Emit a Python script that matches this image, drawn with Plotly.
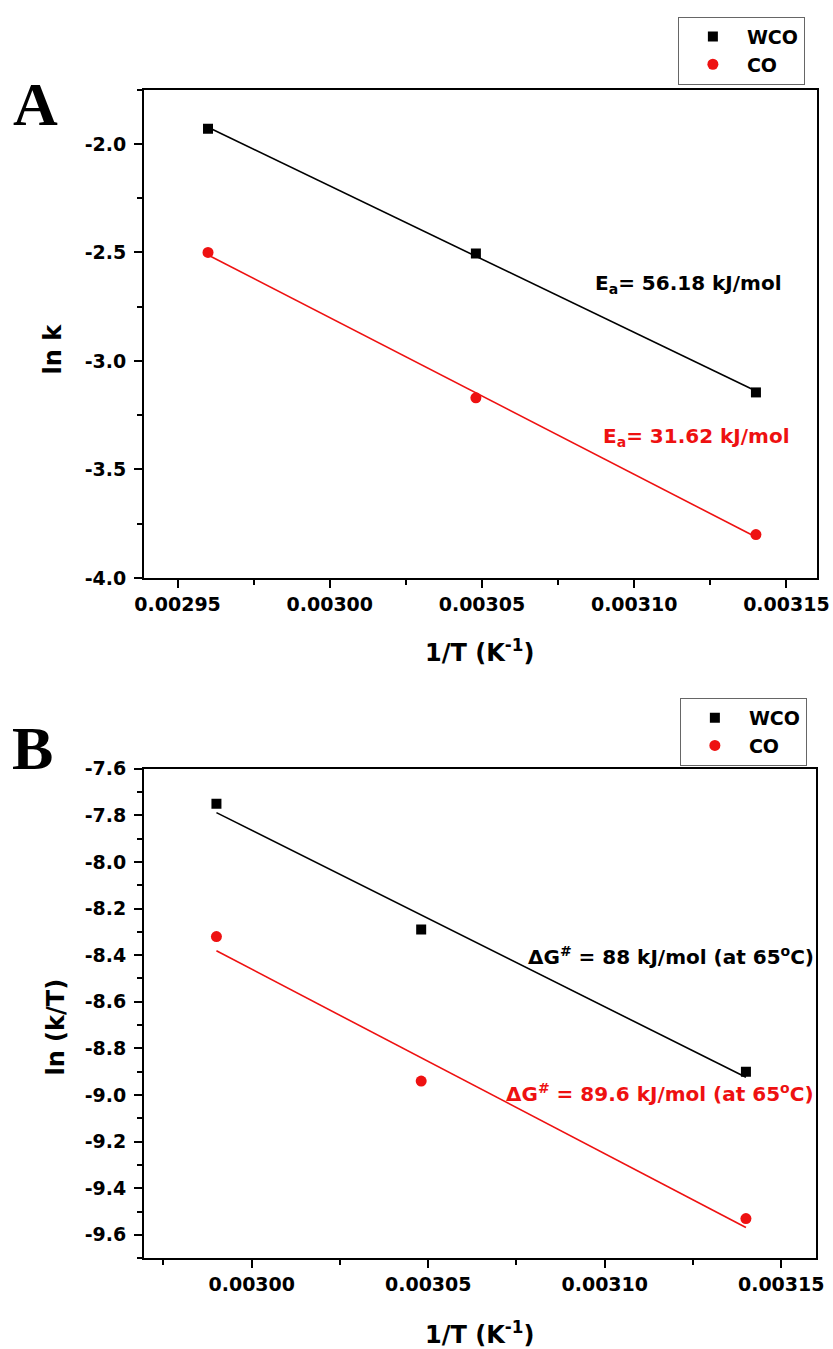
import numpy as np
import plotly.graph_objects as go

# ---- Panel A: Arrhenius plot (ln k vs 1/T) ----
inv_T_A = [0.00296, 0.003048, 0.00314]
lnk_wco = [-1.93, -2.505, -3.145]
lnk_co = [-2.50, -3.17, -3.80]

# ---- Panel B: Eyring plot (ln(k/T) vs 1/T) ----
inv_T_B = [0.00299, 0.003048, 0.00314]
lnkT_wco = [-7.75, -8.29, -8.90]
lnkT_co = [-8.32, -8.94, -9.53]

# axis ticks
x_ticks_A = [0.00295, 0.00300, 0.00305, 0.00310, 0.00315]
x_ticks_B = [0.00300, 0.00305, 0.00310, 0.00315]
y_ticks_A = [-4.0, -3.5, -3.0, -2.5, -2.0]
y_ticks_B = [-9.6, -9.4, -9.2, -9.0, -8.8, -8.6, -8.4, -8.2, -8.0, -7.8, -7.6]

ea_labels = ["E<sub>a</sub>= 56.18 kJ/mol", "E<sub>a</sub>= 31.62 kJ/mol"]
dg_labels = ["\u0394G<sup>#</sup> = 88 kJ/mol (at 65<sup>o</sup>C)",
             "\u0394G<sup>#</sup> = 89.6 kJ/mol (at 65<sup>o</sup>C)"]

# page geometry: figure sits inside the default 8 px body margin
BODY = 8
SCALE, SHIFT = 0.985, 1.4
XSCALE, XSHIFT = 0.988, 1.7
W, H = 846, 1354
FONT = "DejaVu Sans"
BLACK = "#000000"
RED = "#ee1111"


def fit_line(x, y):
    slope, icpt = np.polyfit(x, y, 1)
    xs = np.array([min(x), max(x)])
    return xs, slope * xs + icpt


def px_x(p):
    p = (p - XSHIFT) / XSCALE
    return ((p - SHIFT) / SCALE - BODY) / W


def px_y(p):
    return 1 - ((p - SHIFT) / SCALE - BODY) / H


fig = go.Figure()

# Panel A traces
for y, color, sym, name in [(lnk_wco, BLACK, "square", "WCO"), (lnk_co, RED, "circle", "CO")]:
    xs, ys = fit_line(inv_T_A, y)
    fig.add_trace(go.Scatter(x=xs, y=ys, mode="lines", line=dict(color=color, width=1.6),
                             showlegend=False, xaxis="x", yaxis="y", hoverinfo="skip"))
    fig.add_trace(go.Scatter(x=inv_T_A, y=y, mode="markers", name=name,
                             marker=dict(symbol=sym, size=10 if sym == "square" else 11, color=color),
                             xaxis="x", yaxis="y", legend="legend"))

# Panel B traces
for y, color, sym, name in [(lnkT_wco, BLACK, "square", "WCO"), (lnkT_co, RED, "circle", "CO")]:
    xs, ys = fit_line(inv_T_B, y)
    fig.add_trace(go.Scatter(x=xs, y=ys, mode="lines", line=dict(color=color, width=1.6),
                             showlegend=False, xaxis="x2", yaxis="y2", hoverinfo="skip"))
    fig.add_trace(go.Scatter(x=inv_T_B, y=y, mode="markers", name=name,
                             marker=dict(symbol=sym, size=10 if sym == "square" else 11, color=color),
                             xaxis="x2", yaxis="y2", legend="legend2"))

tickfont = dict(family=FONT, size=19, color=BLACK, weight="bold")
titlefont = dict(family=FONT, size=24, color=BLACK, weight="bold")


def fmt(v, nd):
    return f"{v:.{nd}f}"


common_axis = dict(showline=True, linecolor=BLACK, linewidth=2, mirror=True,
                   ticks="outside", ticklen=8, tickwidth=1.5, tickcolor=BLACK,
                   showgrid=False, zeroline=False, tickfont=tickfont,
                   ticklabeloverflow="allow")
minor_style = dict(ticks="outside", ticklen=5, tickwidth=1.5, tickcolor=BLACK)

legend_style = dict(xanchor="left", yanchor="top",
                    bordercolor="#666666", borderwidth=1, bgcolor="white",
                    font=dict(family=FONT, size=19, color=BLACK, weight="bold"),
                    tracegroupgap=0, itemwidth=58)

fig.update_layout(
    width=W, height=H,
    margin=dict(l=0, r=0, t=0, b=0),
    paper_bgcolor="white", plot_bgcolor="white",
    xaxis=dict(common_axis, domain=[px_x(145), px_x(818)], anchor="y",
               range=[0.002939, 0.00316],
               tickvals=x_ticks_A, ticktext=[fmt(v, 5) for v in x_ticks_A],
               minor=dict(minor_style, dtick=0.000025, tick0=0.002925)),
    yaxis=dict(common_axis, domain=[px_y(577), px_y(88)], anchor="x",
               range=[-4.0, -1.75],
               tickvals=y_ticks_A, ticktext=[fmt(v, 1) for v in y_ticks_A],
               ticklabelstandoff=4,
               minor=dict(minor_style, dtick=0.25, tick0=-4.0)),
    xaxis2=dict(common_axis, domain=[px_x(145), px_x(817)], anchor="y2",
                range=[0.0029695, 0.0031598],
                tickvals=x_ticks_B, ticktext=[fmt(v, 5) for v in x_ticks_B],
                minor=dict(minor_style, dtick=0.000025, tick0=0.002975)),
    yaxis2=dict(common_axis, domain=[px_y(1258), px_y(768)], anchor="x2",
                range=[-9.7, -7.6],
                tickvals=y_ticks_B, ticktext=[fmt(v, 1) for v in y_ticks_B],
                ticklabelstandoff=4,
                minor=dict(minor_style, dtick=0.1, tick0=-9.7)),
    legend=dict(legend_style, x=px_x(679), y=px_y(15)),
    legend2=dict(legend_style, x=px_x(681), y=px_y(697)),
)


def label(text, x, y, font, xanchor="center", angle=0):
    return dict(text=text, x=px_x(x), y=px_y(y), xref="paper", yref="paper",
                xanchor=xanchor, yanchor="middle", showarrow=False,
                textangle=angle, font=font)


letter_font = dict(family="Liberation Serif", size=62, color=BLACK, weight="bold")
labfont = dict(family=FONT, size=20, weight="bold")

ann = [
    # panel letters
    label("A", 36, 102, letter_font),
    label("B", 33, 747, letter_font),
    # axis titles
    label("ln k", 54, 348, titlefont, angle=-90),
    label("ln (k/T)", 57, 1027, titlefont, angle=-90),
    label("1/T (K<sup>-1</sup>)", 481, 650, titlefont),
    label("1/T (K<sup>-1</sup>)", 481, 1333, titlefont),
    # energy labels
    label(ea_labels[0], 594, 283, dict(labfont, color=BLACK), xanchor="left"),
    label(ea_labels[1], 602, 436, dict(labfont, color=RED), xanchor="left"),
    label(dg_labels[0], 817, 955, dict(labfont, color=BLACK), xanchor="right"),
    label(dg_labels[1], 817, 1093, dict(labfont, color=RED), xanchor="right"),
]
fig.update_layout(annotations=ann)

fig.write_html("out.html")
